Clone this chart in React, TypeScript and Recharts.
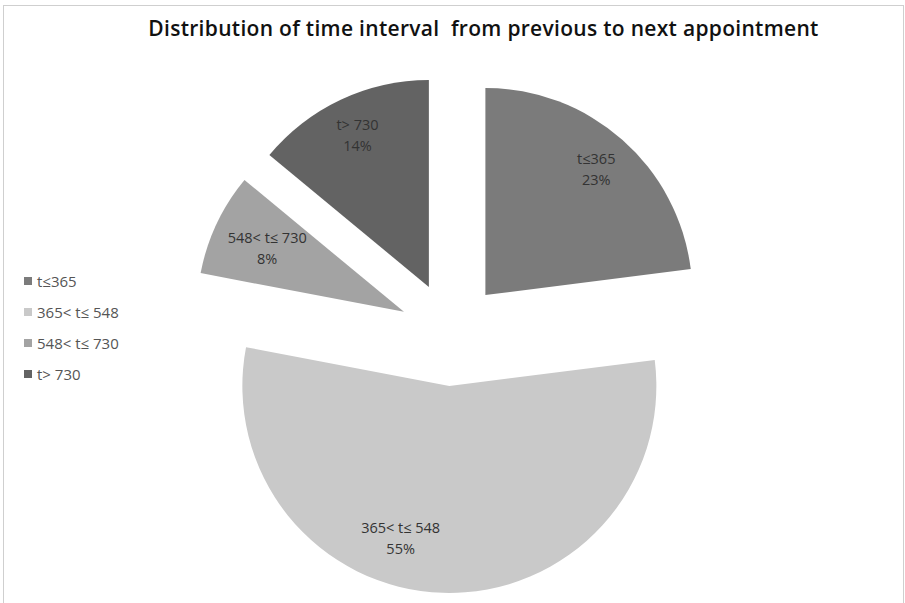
import { PieChart, Pie, Cell, Sector } from 'recharts'

const categories = ['t≤365', '365< t≤ 548', '548< t≤ 730', 't> 730']
const shares = [23, 55, 8, 14]
const sliceColors = ['#7b7b7b', '#c9c9c9', '#a3a3a3', '#636363']

const data = categories.map((name, i) => ({ name, value: shares[i] }))

const RADIAN = Math.PI / 180
const EXPLODE = 52
// Excel "best fit" nudged the big slice's label off its bisector
const labelTweak: Record<number, { angle: number; k: number }> = {
  1: { angle: -16, k: 0.77 },
  2: { angle: 0, k: 0.73 },
}

// every slice pushed outward along its bisector (Excel-style exploded pie)
const ExplodedSlice = (props: any) => {
  const { cx, cy, midAngle } = props
  const dx = EXPLODE * Math.cos(-midAngle * RADIAN)
  const dy = EXPLODE * Math.sin(-midAngle * RADIAN)
  return <Sector {...props} cx={cx + dx} cy={cy + dy} stroke="none" />
}

const SliceLabel = (props: any) => {
  const { cx, cy, midAngle, outerRadius, name, value, index } = props
  const tw = labelTweak[index] || { angle: 0, k: 0.81 }
  const ax = cx + EXPLODE * Math.cos(-midAngle * RADIAN)
  const ay = cy + EXPLODE * Math.sin(-midAngle * RADIAN)
  const a = (midAngle + tw.angle) * RADIAN
  const x = ax + outerRadius * tw.k * Math.cos(-a)
  const y = ay + outerRadius * tw.k * Math.sin(-a)
  return (
    <text x={x} y={y} textAnchor="middle" fill="#333" fontSize={14.5} fontFamily="'Open Sans', sans-serif">
      <tspan x={x} dy={-5}>{name}</tspan>
      <tspan x={x} dy={21}>{`${value}%`}</tspan>
    </text>
  )
}

export default function App() {
  return (
    <div style={{ position: 'absolute', left: 0, top: 0, width: 905, height: 603, background: '#fff', overflow: 'hidden' }}>
      <div
        style={{
          position: 'absolute',
          left: 3,
          top: 5,
          width: 899,
          height: 610,
          border: '1px solid #cfcfcf',
        }}
      />
      <div
        style={{
          position: 'absolute',
          left: 0,
          width: 905,
          top: 14,
          paddingLeft: 62,
          boxSizing: 'border-box',
          textAlign: 'center',
          fontFamily: "'Open Sans', sans-serif",
          fontWeight: 600,
          fontSize: 21,
          letterSpacing: 0.3,
          color: '#111',
          whiteSpace: 'pre',
        }}
      >
        {'Distribution of time interval  from previous to next appointment'}
      </div>
      <PieChart
        width={905}
        height={603}
        margin={{ top: 0, right: 0, bottom: 0, left: 0 }}
        style={{ position: 'absolute', left: 0, top: 0 }}
      >
        <Pie
          data={data}
          dataKey="value"
          nameKey="name"
          cx={451}
          cy={334}
          outerRadius={207}
          startAngle={90}
          endAngle={-270}
          shape={ExplodedSlice}
          label={SliceLabel}
          labelLine={false}
          isAnimationActive={false}
        >
          {data.map((d, i) => (
            <Cell key={d.name} fill={sliceColors[i]} />
          ))}
        </Pie>
      </PieChart>
      <div
        style={{
          position: 'absolute',
          left: 24,
          top: 265,
          fontFamily: "'Open Sans', sans-serif",
          fontSize: 15,
          color: '#555',
        }}
      >
        {categories.map((c, i) => (
          <div key={c} style={{ display: 'flex', alignItems: 'center', height: 31 }}>
            <span style={{ width: 8, height: 8, background: sliceColors[i], display: 'inline-block', marginRight: 5 }} />
            <span>{c}</span>
          </div>
        ))}
      </div>
    </div>
  )
}
